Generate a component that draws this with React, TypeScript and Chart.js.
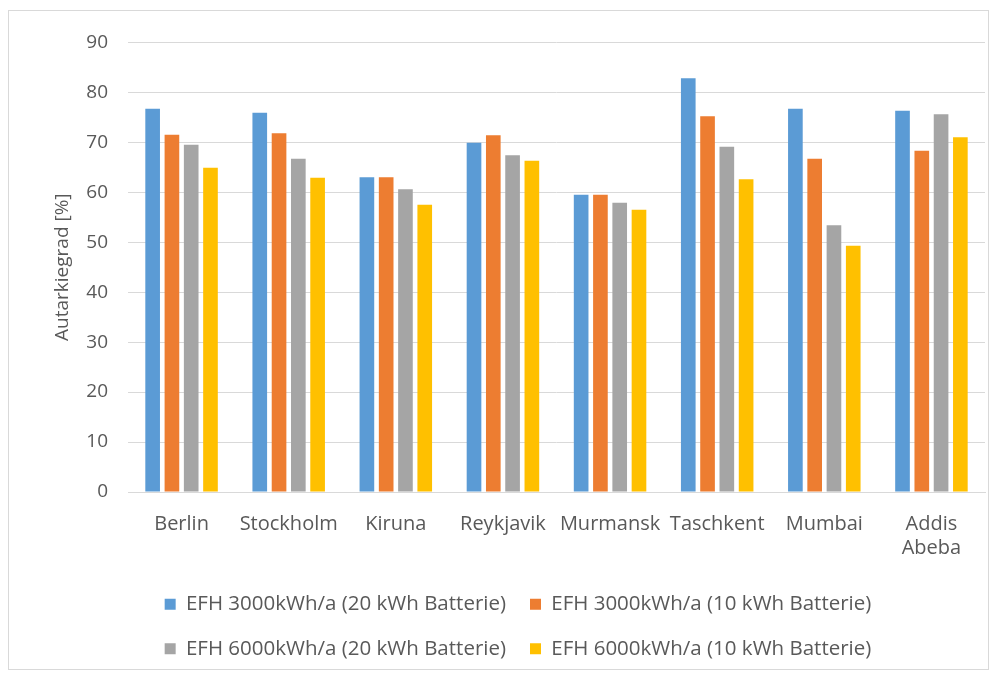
import React, { useEffect, useRef } from "react";
import { Chart, registerables } from "chart.js";

Chart.register(...registerables);

const categories: (string | string[])[] = [
  "Berlin",
  "Stockholm",
  "Kiruna",
  "Reykjavik",
  "Murmansk",
  "Taschkent",
  "Mumbai",
  ["Addis", "Abeba"],
];

const seriesNames = [
  "EFH 3000kWh/a (20 kWh Batterie)",
  "EFH 3000kWh/a (10 kWh Batterie)",
  "EFH 6000kWh/a (20 kWh Batterie)",
  "EFH 6000kWh/a (10 kWh Batterie)",
];

const efh3000_20 = [76.7, 75.9, 63.0, 69.9, 59.5, 82.8, 76.7, 76.3];
const efh3000_10 = [71.5, 71.8, 63.0, 71.4, 59.5, 75.2, 66.7, 68.3];
const efh6000_20 = [69.5, 66.7, 60.6, 67.4, 57.9, 69.1, 53.4, 75.6];
const efh6000_10 = [64.9, 62.9, 57.5, 66.3, 56.5, 62.6, 49.3, 71.0];

const colors = ["#5B9BD5", "#ED7D31", "#A5A5A5", "#FFC000"];

const yTicks = [0, 10, 20, 30, 40, 50, 60, 70, 80, 90];
const yTitle = "Autarkiegrad [%]";

const FONT = "'Open Sans', sans-serif";
const TEXT = "#595959";

export default function App() {
  const ref = useRef<HTMLCanvasElement | null>(null);

  useEffect(() => {
    if (!ref.current) return;
    const values = [efh3000_20, efh3000_10, efh6000_20, efh6000_10];
    const chart = new Chart(ref.current, {
      type: "bar",
      data: {
        labels: categories,
        datasets: values.map((v, i) => ({
          label: seriesNames[i],
          data: v,
          backgroundColor: colors[i],
          borderWidth: 0,
          categoryPercentage: 0.72,
          barPercentage: 0.76,
        })),
      },
      options: {
        animation: false,
        responsive: true,
        maintainAspectRatio: false,
        layout: { padding: { left: 42, right: 3, top: 18, bottom: 0 } },
        plugins: {
          tooltip: { enabled: false },
          legend: {
            position: "bottom",
            labels: {
              font: { family: FONT, size: 20.5 },
              color: TEXT,
              boxWidth: 11,
              boxHeight: 11,
              padding: 24,
            },
          },
        },
        scales: {
          x: {
            grid: { display: false, drawTicks: false },
            border: { display: true, color: "#d9d9d9", width: 1 },
            ticks: {
              font: { family: FONT, size: 20 },
              color: TEXT,
              padding: 20,
              autoSkip: false,
              maxRotation: 0,
              minRotation: 0,
            },
            afterFit: (scale: any) => {
              scale.height = 78;
            },
          },
          y: {
            min: 0,
            max: 90,
            afterBuildTicks: (scale: any) => {
              scale.ticks = yTicks.map((v) => ({ value: v }));
            },
            grid: { color: "#d9d9d9", drawTicks: false, lineWidth: 1 },
            border: { display: false },
            ticks: {
              font: { family: FONT, size: 19 },
              color: TEXT,
              padding: 20,
            },
            title: {
              display: true,
              text: yTitle,
              font: { family: FONT, size: 19 },
              color: TEXT,
              padding: { top: 0, bottom: 0 },
            },
            afterFit: (scale: any) => {
              scale.width = 77;
            },
          },
        },
      },
    });
    return () => chart.destroy();
  }, []);

  return (
    <div
      style={{
        width: 981,
        height: 660,
        marginTop: 2,
        border: "1px solid #d9d9d9",
        boxSizing: "border-box",
        position: "relative",
        background: "#fff",
      }}
    >
      <canvas ref={ref} />
    </div>
  );
}
